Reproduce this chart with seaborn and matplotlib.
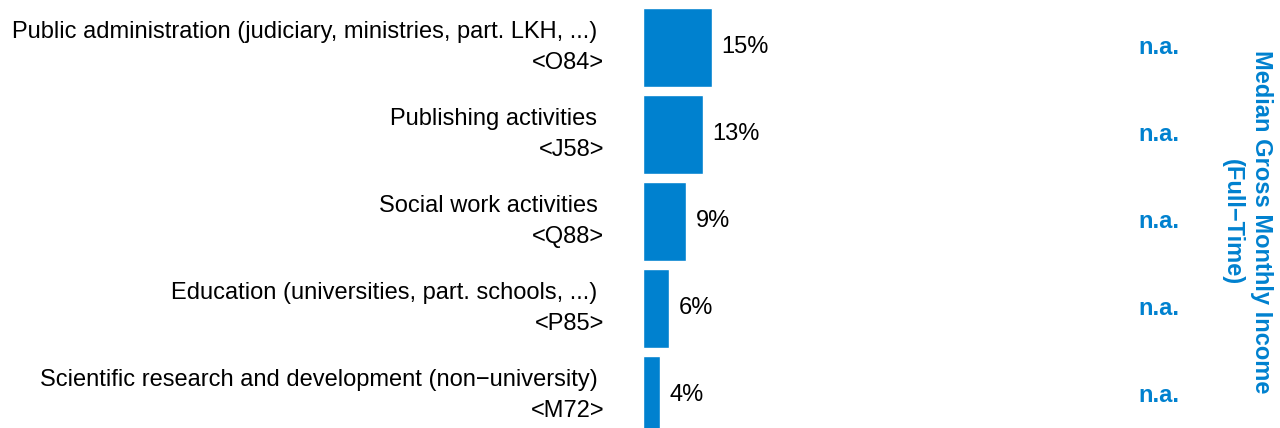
import matplotlib
matplotlib.use("Agg")
import matplotlib.pyplot as plt
import matplotlib.transforms as mtransforms
import pandas as pd
import seaborn as sns

# Data
industries = [
    "Public administration (judiciary, ministries, part. LKH, ...) ",
    "Publishing activities ",
    "Social work activities ",
    "Education (universities, part. schools, ...) ",
    "Scientific research and development (non\u2212university) ",
]
codes = ["<O84>", "<J58>", "<Q88>", "<P85>", "<M72>"]
shares = [15.0, 13.0, 9.3, 5.7, 3.7]
income = ["n.a.", "n.a.", "n.a.", "n.a.", "n.a."]
income_title = "Median Gross Monthly Income\n(Full\u2212Time)"

BAR_COLOR = "#0081CF"
FS = 17

sns.set_theme(style="white")
plt.rcParams["font.family"] = ["Liberation Sans", "DejaVu Sans"]

df = pd.DataFrame({"label": [f"{a}\n{c}" for a, c in zip(industries, codes)],
                   "share": shares})

fig = plt.figure(figsize=(12.8, 4.28), dpi=100)
ax = fig.add_axes([643 / 1280, 0.0, 1 - 643 / 1280, 1.0])

sns.barplot(data=df, x="share", y="label", orient="h", color=BAR_COLOR,
            saturation=1, width=0.91, ax=ax)

ax.set_xlim(0, 637 / 4.6)
ax.set_ylim(4.374, -0.546)
sns.despine(ax=ax, left=True, bottom=True)
ax.set_xticks([])
ax.set_xlabel("")
ax.set_ylabel("")
ax.tick_params(axis="y", length=0, pad=28)
for t in ax.get_yticklabels():
    t.set_fontsize(FS)
    t.set_color("black")
    t.set_multialignment("right")
    t.set_verticalalignment("center")
    t.set_linespacing(1.5)

ax.bar_label(ax.containers[0], labels=[f"{v:.0f}%" for v in shares],
             padding=7, fontsize=FS, color="black")

# n.a. column
trans = mtransforms.blended_transform_factory(fig.transFigure, ax.transData)
for i, s in enumerate(income):
    ax.text(1159 / 1280, i, s, transform=trans, ha="center", va="center",
            fontsize=FS, fontweight="bold", color=BAR_COLOR)

fig.text(1247 / 1280, 1 - 222 / 428, income_title, rotation=-90,
         ha="center", va="center", multialignment="center",
         fontsize=FS, fontweight="bold", color=BAR_COLOR, linespacing=1.35)

fig.savefig("out.png", dpi=100)
